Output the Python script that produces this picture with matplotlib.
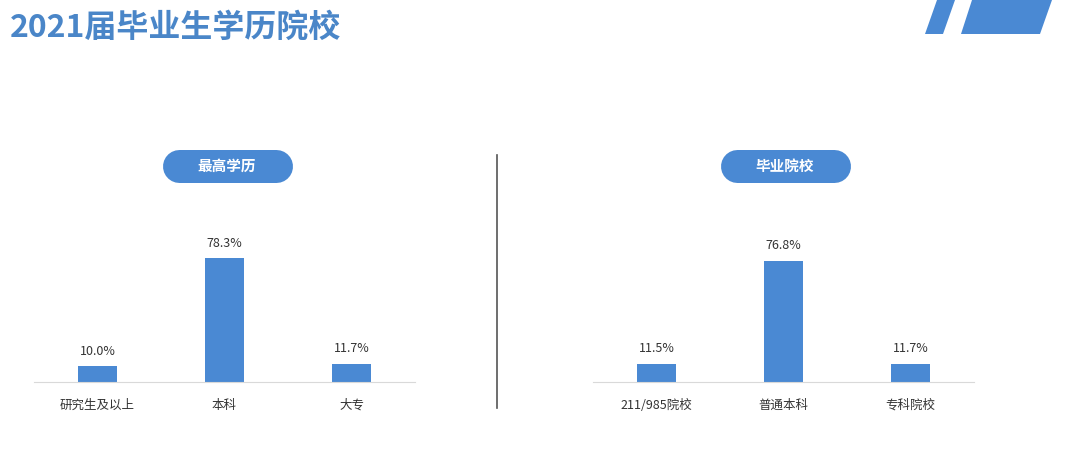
import matplotlib.pyplot as plt
from matplotlib.patches import Polygon

plt.rcParams['font.family'] = ['Noto Sans CJK SC', 'DejaVu Sans']

# data
title = '2021届毕业生学历院校'
edu_title = '最高学历'
edu_labels = ['研究生及以上', '本科', '大专']
edu_values = [10.0, 78.3, 11.7]
school_title = '毕业院校'
school_labels = ['211/985院校', '普通本科', '专科院校']
school_values = [11.5, 76.8, 11.7]

blue = '#4a89d3'
text_col = '#333333'
W, H = 1080, 451

fig = plt.figure(figsize=(W / 100, H / 100), dpi=100)

# overlay in pixel coords for decorations (y measured from the bottom)
ov = fig.add_axes([0, 0, 1, 1])
ov.set_xlim(0, W)
ov.set_ylim(0, H)
ov.axis('off')

ov.text(10, H - 28, title, fontsize=23, fontweight='bold', color='#4a86c8',
        ha='left', va='center')
ov.add_patch(Polygon([[937, H], [955, H], [943, H - 34], [925, H - 34]], color=blue, lw=0))
ov.add_patch(Polygon([[972, H], [1052, H], [1040, H - 34], [961, H - 34]], color=blue, lw=0))
ov.plot([497, 497], [H - 155, H - 408], color='#555555', lw=1.2)

# pill headers: a thick line with round caps (33 px tall)
for cx, name in [(227, edu_title), (785, school_title)]:
    ov.plot([cx - 48.5, cx + 48.5], [H - 165.5, H - 165.5], color=blue,
            lw=33 * 72 / 100, solid_capstyle='round')
    ov.text(cx, H - 165.5, name, fontsize=10.5, fontweight='bold', color='white',
            ha='center', va='center')


def bar_panel(x0, labels, values):
    ax = fig.add_axes([x0 / W, (H - 382) / H, 381 / W, 158 / H])
    xs = range(len(values))
    bars = ax.bar(xs, values, width=0.31, color=blue)
    ax.set_xlim(-0.5, 2.5)
    ax.set_ylim(0, 100)
    for b, v in zip(bars, values):
        ax.annotate(f'{v:.1f}%', (b.get_x() + b.get_width() / 2, v),
                    xytext=(0, 6), textcoords='offset points',
                    ha='center', va='bottom', fontsize=9, color=text_col)
    ax.set_xticks(list(xs))
    ax.set_xticklabels(labels, fontsize=9, color=text_col)
    ax.tick_params(axis='x', length=0, pad=12)
    ax.set_yticks([])
    for s in ['top', 'right', 'left']:
        ax.spines[s].set_visible(False)
    ax.spines['bottom'].set_color('#d9d9d9')
    ax.patch.set_alpha(0)
    return ax


bar_panel(34, edu_labels, edu_values)
bar_panel(593, school_labels, school_values)

fig.savefig('out.png', dpi=100, facecolor='white')
